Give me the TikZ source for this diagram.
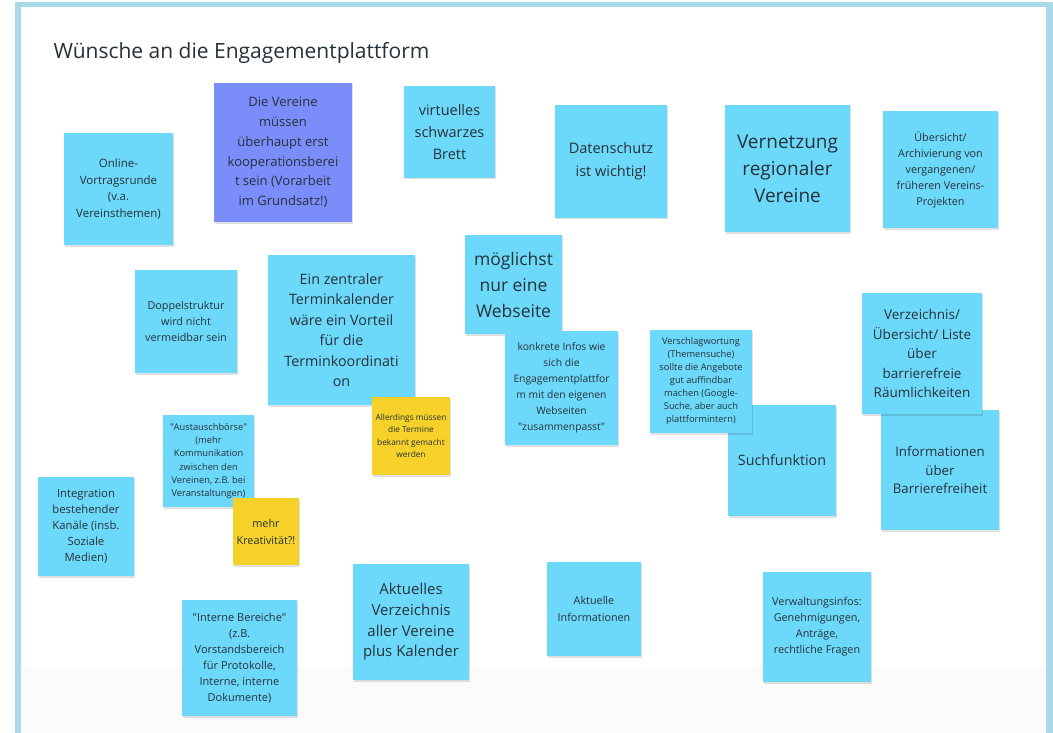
\documentclass[tikz,border=0pt]{standalone}
\usepackage{fontspec}
\setmainfont{Open Sans}
\usetikzlibrary{shadows}
\definecolor{frameblue}{HTML}{A8DAEA}
\definecolor{notecyan}{HTML}{6CD8FA}
\definecolor{notepurple}{HTML}{7B8DFA}
\definecolor{noteyellow}{HTML}{F5D12A}
\definecolor{notetext}{HTML}{263238}
\definecolor{bgband}{HTML}{FBFBFB}
\newcommand{\fs}[2]{\fontsize{#1}{#2}\selectfont}
\newcommand{\dq}{{\XeTeXglyph\XeTeXcharglyph"0022\relax}}
\tikzset{
  note/.style={rectangle, draw=none, align=center, text=notetext, inner sep=2pt,
    drop shadow={shadow xshift=0.8pt, shadow yshift=-1.5pt, opacity=0.12, fill=black}},
  cyannote/.style={note, fill=notecyan},
  purplenote/.style={note, fill=notepurple},
  yellownote/.style={note, fill=noteyellow},
  sz/.style 2 args={minimum width=#1, minimum height=#2},
}
\begin{document}
\begin{tikzpicture}[x=1pt,y=-1pt]
\useasboundingbox (0,0) rectangle (1053,733);
\fill[white] (0,0) rectangle (1053,733);
\fill[bgband] (21,667) rectangle (1046,733);
\fill[frameblue] (15,2) rectangle (1053,7);
\fill[frameblue] (15,2) rectangle (21,733);
\fill[frameblue] (1046,2) rectangle (1053,733);

\node[anchor=base west, text=notetext, font=\fs{21}{25}] (title) at (50,59) {Wünsche an die Engagementplattform};

\node[cyannote, sz={109pt}{112pt}, font=\fs{11.5}{16.5}] (n1) at (118.5,189) {Online-\\Vortragsrunde\\(v.a.\\Vereinsthemen)};
\node[purplenote, sz={138pt}{139pt}, font=\fs{13}{19.8}] (n2) at (283,152.5) {Die Vereine\\müssen\\überhaupt erst\\kooperationsberei\\t sein (Vorarbeit\\im Grundsatz!)};
\node[cyannote, sz={91pt}{92pt}, font=\fs{14.5}{22}] (n3) at (449.5,132) {virtuelles\\schwarzes\\Brett};
\node[cyannote, sz={112pt}{113pt}, font=\fs{14.5}{23}] (n4) at (611,161.5) {Datenschutz\\ist wichtig!};
\node[cyannote, sz={125pt}{127pt}, font=\fs{19}{27}] (n5) at (787.5,168.5) {Vernetzung\\regionaler\\Vereine};
\node[cyannote, sz={115pt}{117pt}, font=\fs{10.8}{16}] (n6) at (940.5,169.5) {Übersicht/\\Archivierung von\\vergangenen/\\früheren Vereins-\\Projekten};
\node[cyannote, sz={102pt}{103pt}, font=\fs{10.8}{16}] (n7) at (186,321.5) {Doppelstruktur\\wird nicht\\vermeidbar sein};
\node[cyannote, sz={147pt}{150pt}, font=\fs{14.3}{20.5}] (n8) at (341.5,330) {Ein zentraler\\Terminkalender\\wäre ein Vorteil\\für die\\Terminkoordinati\\on};
\node[cyannote, sz={97pt}{99pt}, font=\fs{17.5}{26}] (n9) at (513.5,284.5) {möglichst\\nur eine\\Webseite};
\node[cyannote, sz={113pt}{114pt}, font=\fs{10.3}{16}] (n10) at (561.5,388) {konkrete Infos wie\\sich die\\Engagementplattfor\\m mit den eigenen\\Webseiten\\\dq zusammenpasst\dq};
\node[cyannote, sz={108pt}{111pt}, font=\fs{14.3}{20}] (n13) at (782,460.5) {Suchfunktion};
\node[cyannote, sz={102pt}{103pt}, font=\fs{9.3}{13}] (n11) at (701,381.5) {Verschlagwortung\\(Themensuche)\\sollte die Angebote\\gut auffindbar\\machen (Google-\\Suche, aber auch\\plattformintern)};
\node[cyannote, sz={118pt}{120pt}, font=\fs{13.3}{18.5}] (n14) at (940,470) {Informationen\\über\\Barrierefreiheit};
\node[cyannote, sz={120pt}{121pt}, font=\fs{13.5}{19.5}] (n12) at (922,353.5) {Verzeichnis/\\Übersicht/ Liste\\über\\barrierefreie\\Räumlichkeiten};
\node[yellownote, sz={78pt}{78pt}, font=\fs{8.3}{12.3}] (n15) at (411,436) {Allerdings müssen\\die Termine\\bekannt gemacht\\werden};
\node[cyannote, sz={91pt}{92pt}, font=\fs{9.3}{13.3}] (n16) at (208.5,461) {\dq Austauschbörse\dq\\(mehr\\Kommunikation\\zwischen den\\Vereinen, z.B. bei\\Veranstaltungen)};
\node[yellownote, sz={66pt}{67pt}, font=\fs{10.8}{17}] (n17) at (266,531.5) {mehr\\Kreativität?!};
\node[cyannote, sz={96pt}{99pt}, font=\fs{11.3}{16}] (n18) at (86,526.5) {Integration\\bestehender\\Kanäle (insb.\\Soziale\\Medien)};
\node[cyannote, sz={116pt}{116pt}, font=\fs{15}{20.7}] (n19) at (411,622) {Aktuelles\\Verzeichnis\\aller Vereine\\plus Kalender};
\node[cyannote, sz={94pt}{94pt}, font=\fs{10.8}{16.5}] (n20) at (594,609) {Aktuelle\\Informationen};
\node[cyannote, sz={115pt}{116pt}, font=\fs{11}{16}] (n21) at (239.5,658) {\dq Interne Bereiche\dq\\(z.B.\\Vorstandsbereich\\für Protokolle,\\Interne, interne\\Dokumente)};
\node[cyannote, sz={108pt}{110pt}, font=\fs{10.8}{16}] (n22) at (817,627) {Verwaltungsinfos:\\Genehmigungen,\\Anträge,\\rechtliche Fragen};
\end{tikzpicture}
\end{document}
